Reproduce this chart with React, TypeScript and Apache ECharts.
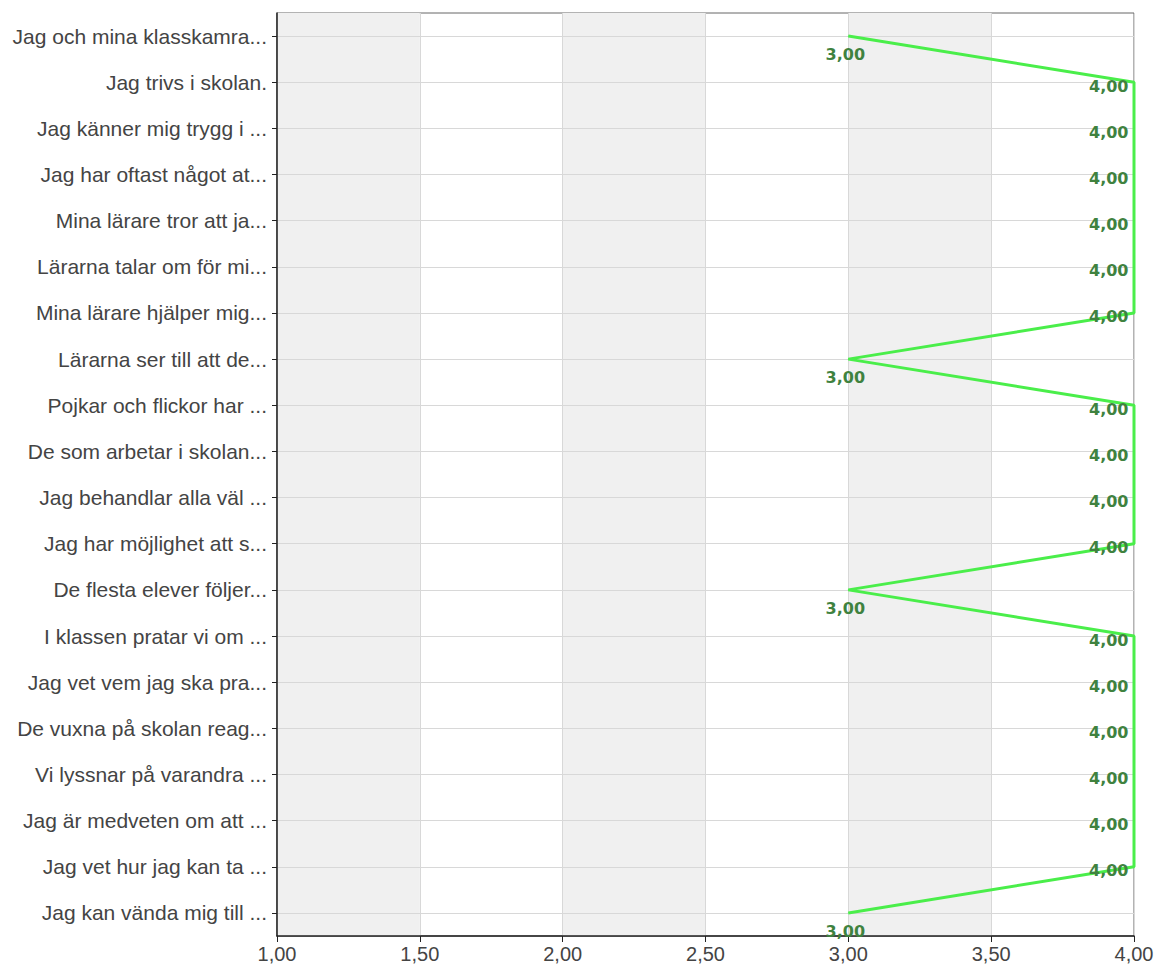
import React, { useEffect, useRef } from "react";
import * as echarts from "echarts";

const categories: string[] = [
  "Jag och mina klasskamra...",
  "Jag trivs i skolan.",
  "Jag känner mig trygg i ...",
  "Jag har oftast något at...",
  "Mina lärare tror att ja...",
  "Lärarna talar om för mi...",
  "Mina lärare hjälper mig...",
  "Lärarna ser till att de...",
  "Pojkar och flickor har ...",
  "De som arbetar i skolan...",
  "Jag behandlar alla väl ...",
  "Jag har möjlighet att s...",
  "De flesta elever följer...",
  "I klassen pratar vi om ...",
  "Jag vet vem jag ska pra...",
  "De vuxna på skolan reag...",
  "Vi lyssnar på varandra ...",
  "Jag är medveten om att ...",
  "Jag vet hur jag kan ta ...",
  "Jag kan vända mig till ...",
];

const values: number[] = [3, 4, 4, 4, 4, 4, 4, 3, 4, 4, 4, 4, 3, 4, 4, 4, 4, 4, 4, 3];

const xMin = 1;
const xMax = 4;
const xInterval = 0.5;

const fmt = (v: number) => v.toFixed(2).replace(".", ",");

export default function App() {
  const ref = useRef<HTMLDivElement>(null);

  useEffect(() => {
    document.body.style.margin = "0";
    if (!ref.current) return;
    const chart = echarts.init(ref.current, undefined, { renderer: "svg" });
    const labelColor = "#3f823f";
    const data = values.map((v) => ({
      value: v,
      label:
        v >= xMax
          ? { position: "left" as const, distance: 5, offset: [0, 4] }
          : { position: "bottom" as const, distance: 10, offset: [-3, 0] },
    }));
    chart.setOption({
      animation: false,
      backgroundColor: "#ffffff",
      grid: {
        left: 277,
        right: 24,
        top: 13,
        bottom: 35,
        show: true,
        borderColor: "#666",
        borderWidth: 1,
        backgroundColor: "transparent",
      },
      xAxis: {
        type: "value",
        z: 0,
        min: xMin,
        max: xMax,
        interval: xInterval,
        axisLine: { show: true, lineStyle: { color: "#222", width: 1.5 } },
        axisTick: { show: true, length: 6, lineStyle: { color: "#222" } },
        axisLabel: {
          formatter: (v: number) => fmt(v),
          fontFamily: "Liberation Sans, Arial, sans-serif",
          fontSize: 20,
          color: "#444",
          margin: 8,
        },
        splitLine: { show: true, lineStyle: { color: "#d8d8d8", width: 1 } },
        splitArea: { show: true, areaStyle: { color: ["#f0f0f0", "rgba(255,255,255,0)"] } },
      },
      yAxis: {
        type: "category",
        z: 1,
        data: categories,
        inverse: true,
        boundaryGap: true,
        axisLine: { show: true, lineStyle: { color: "#222", width: 1.5 } },
        axisTick: { show: true, alignWithLabel: true, length: 5, lineStyle: { color: "#222" } },
        axisLabel: {
          fontFamily: "Liberation Sans, Arial, sans-serif",
          fontSize: 21,
          color: "#444",
          margin: 10,
          interval: 0,
        },
        splitLine: {
          show: true,
          alignWithLabel: true,
          interval: 0,
          lineStyle: { color: "#d8d8d8", width: 1 },
        },
      },
      series: [
        {
          type: "line",
          data,
          showSymbol: true,
          symbol: "circle",
          symbolSize: 1,
          lineStyle: { color: "#4aee4a", width: 3 },
          itemStyle: { color: "#4aee4a" },
          label: {
            show: true,
            formatter: (p: any) => fmt(p.value),
            color: labelColor,
            fontFamily: "DejaVu Sans, Verdana, sans-serif",
            fontWeight: "bold",
            fontSize: 16,
          },
          z: 5,
        },
      ],
    });
    return () => chart.dispose();
  }, []);

  return <div ref={ref} style={{ width: 1158, height: 971 }} />;
}
